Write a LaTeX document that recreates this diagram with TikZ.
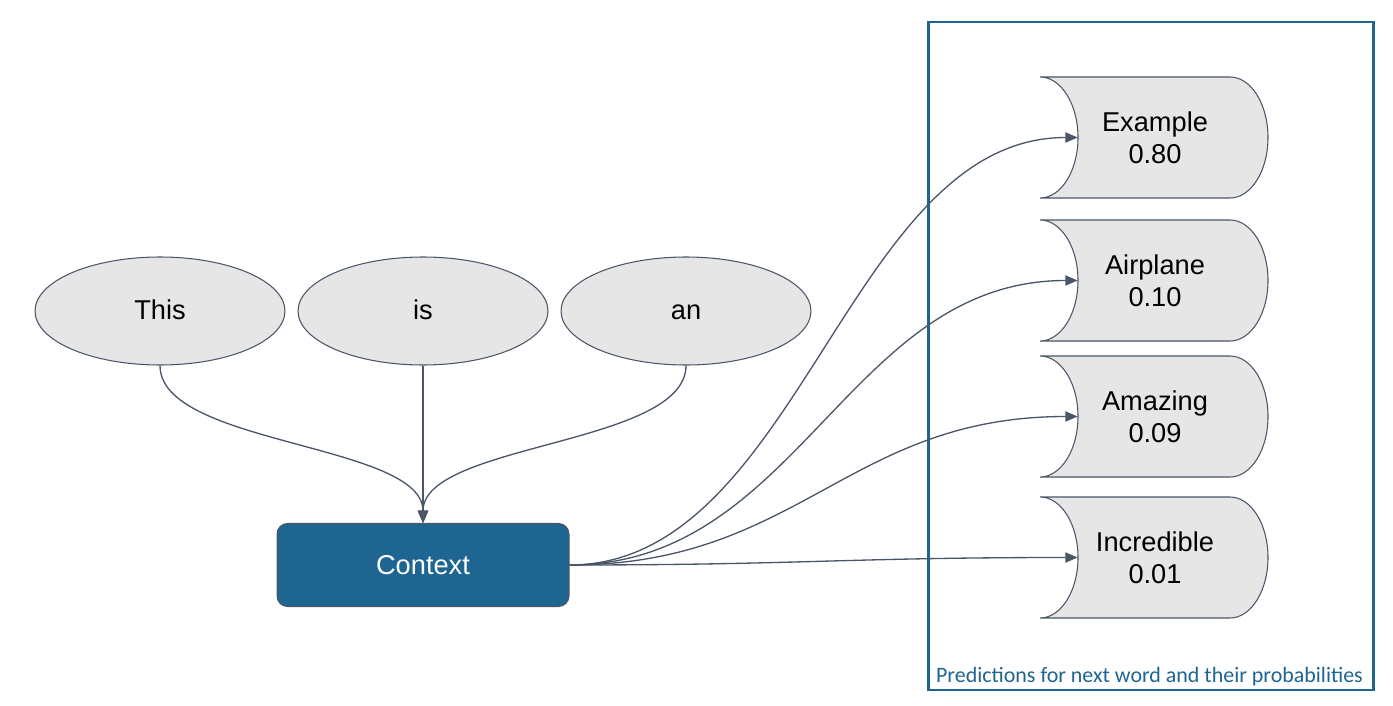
\documentclass[tikz,border=0pt]{standalone}
\usepackage{fontspec}
\setmainfont{Liberation Sans}
\newfontfamily\capfont{Carlito}
\usetikzlibrary{shapes.geometric,arrows.meta}
\definecolor{linegray}{HTML}{4A5568}
\definecolor{boxfill}{HTML}{E6E6E6}
\definecolor{ctxblue}{HTML}{1F6591}

\begin{document}
\begin{tikzpicture}[x=0.02cm, y=-0.02cm,
  word/.style={ellipse, draw=linegray, fill=boxfill, line width=0.6pt,
    minimum width=5cm, minimum height=2.16cm, inner sep=0pt,
    text height=1.8ex, text depth=0ex,
    font=\fontsize{15.5}{18}\selectfont},
  ctxbox/.style={rectangle, rounded corners=6pt, draw=linegray, fill=ctxblue,
    line width=0.6pt, minimum width=5.84cm, minimum height=1.66cm,
    text=white, font=\fontsize{15.5}{18}\selectfont},
  store/.style={draw=linegray, fill=boxfill, line width=0.6pt},
  pred/.style={minimum width=3.08cm, inner sep=0pt, align=center,
    font=\fontsize{15.5}{18}\selectfont},
  link/.style={draw=linegray, line width=0.75pt,
    -{Triangle[length=7pt,width=5.8pt]}}]
\useasboundingbox (0,0) rectangle (1393,706);

% frame around the predictions
\draw[ctxblue, line width=1.7pt] (928,22) rectangle (1373,690);
\node[text=ctxblue, font=\capfont\fontsize{12.5}{14}\selectfont] (caption) at (1149.5,677)
  {Predictions for next word and their probabilities};

% input words
\node[word] (this) at (160,311) {This};
\node[word] (is) at (423,311) {is};
\node[word] (an) at (686,311) {an};
\node[ctxbox] (ctx) at (423,565) {Context};

% candidate next words
\foreach \name/\word/\prob/\y in {ex/Example/0.80/137.5, air/Airplane/0.10/280.5,
    ama/Amazing/0.09/416.5, inc/Incredible/0.01/557.5} {
  \filldraw[store] (1040,\y-60.5) -- (1230,\y-60.5)
    .. controls (1251,\y-60.5) and (1268,\y-33.4) .. (1268,\y)
    .. controls (1268,\y+33.4) and (1251,\y+60.5) .. (1230,\y+60.5)
    -- (1040,\y+60.5)
    .. controls (1061,\y+60.5) and (1078,\y+33.4) .. (1078,\y)
    .. controls (1078,\y-33.4) and (1061,\y-60.5) .. cycle;
  \node[pred] (\name) at (1155,\y) {\word\\\prob};
}

% words into context
\draw[link] (this.south) .. controls +(0,80) and +(0,-80) .. (ctx.north);
\draw[link] (is.south) -- (ctx.north);
\draw[link] (an.south) .. controls +(0,80) and +(0,-80) .. (ctx.north);

% context out to predictions
\foreach \name in {ex,air,ama,inc}
  \draw[link] (ctx.east) .. controls +(230,0) and +(-230,0) .. (\name.west);
\end{tikzpicture}
\end{document}
